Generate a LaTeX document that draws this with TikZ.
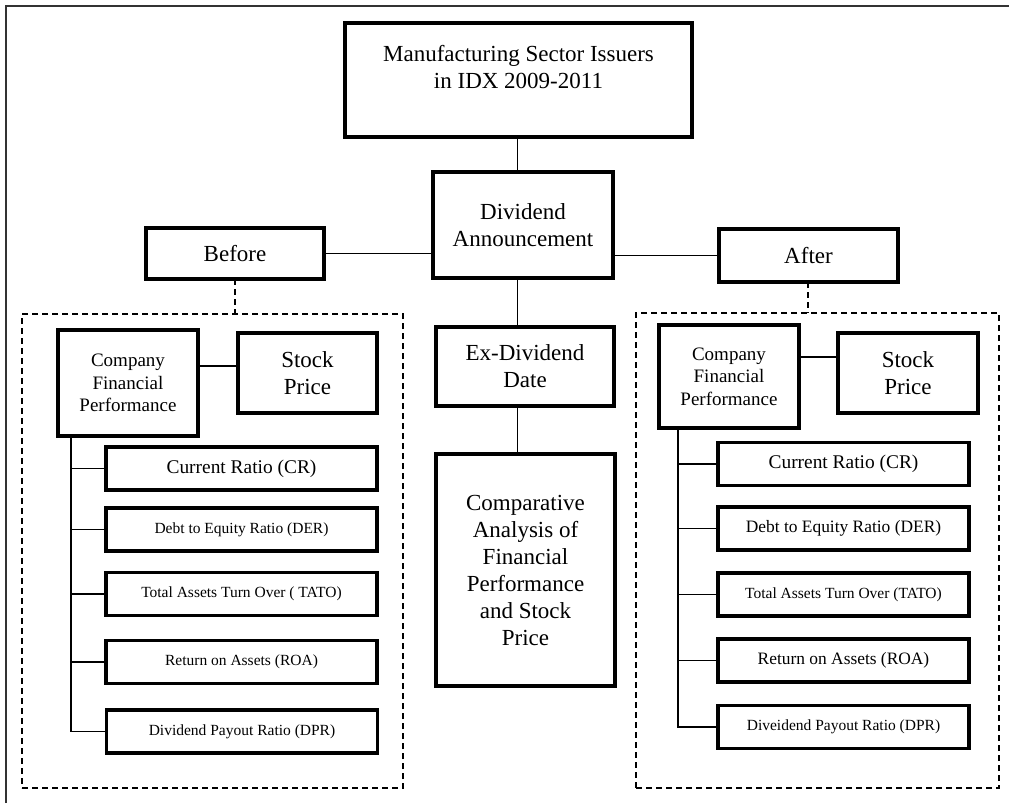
\documentclass[tikz,border=0pt]{standalone}
\usepackage{fontspec}
\setmainfont{Liberation Serif}
\newcommand\myfA{\fontsize{23}{27}\selectfont}
\newcommand\myfC{\fontsize{19}{22.5}\selectfont}
\newcommand\myfD{\fontsize{19.4}{22}\selectfont}
\newcommand\myfE{\fontsize{15.5}{18}\selectfont}
\newcommand\myfF{\fontsize{17.4}{20}\selectfont}
\begin{document}
\begin{tikzpicture}[x=1pt,y=-1pt,
  boxx/.style={draw, rectangle, line width=3.2pt, inner sep=0pt, outer sep=0pt, align=center},
  link/.style={line width=1.3pt},
  dlink/.style={line width=1.2pt, dash pattern=on 6pt off 4pt},
  dbox/.style={draw, rectangle, line width=1.2pt, dash pattern=on 6pt off 4pt, inner sep=0pt, outer sep=0pt},
  outerframe/.style={line width=1.5pt, draw=black!80}]
\useasboundingbox (0,0) rectangle (1009,803);
\draw[outerframe] (6,803) -- (6,6) -- (1009,6);

% centre column
\node[boxx, font=\myfA, minimum width=347pt, minimum height=114pt] (title) at (518.5,80) {Manufacturing Sector Issuers\\in IDX 2009-2011\\\mbox{}};
\node[boxx, font=\myfA, minimum width=180pt, minimum height=106pt] (div) at (523,225) {Dividend\\Announcement};
\node[boxx, font=\myfA, minimum width=178pt, minimum height=51pt] (before) at (235,253.5) {Before};
\node[boxx, font=\myfA, minimum width=179pt, minimum height=53pt] (after) at (808.5,255.5) {After};
\node[boxx, font=\myfA, minimum width=178pt, minimum height=79pt] (exdiv) at (525,366.5) {Ex-Dividend\\Date};
\node[boxx, font=\myfA, minimum width=179pt, minimum height=232pt] (comp) at (525.5,570) {Comparative\\Analysis of\\Financial\\Performance\\and Stock\\Price};

% panels
\node[dbox, minimum width=381pt, minimum height=474pt] (lpanel) at (212.5,551) {};
\node[dbox, minimum width=363pt, minimum height=475pt] (rpanel) at (817.5,550.5) {};

% left panel
\node[boxx, font=\myfC, minimum width=140pt, minimum height=106pt] (lcfp) at (128,383) {Company\\Financial\\Performance};
\node[boxx, font=\myfA, minimum width=139pt, minimum height=80pt] (lsp) at (307.5,373) {Stock\\Price};
\node[boxx, font=\myfD, minimum width=271pt, minimum height=43pt] (lcr) at (241.5,468.5) {Current Ratio (CR)};
\node[boxx, font=\myfE, minimum width=271pt, minimum height=43pt] (lder) at (241.5,529.5) {Debt to Equity Ratio (DER)};
\node[boxx, font=\myfE, minimum width=271pt, minimum height=43pt] (ltato) at (241.5,594) {Total Assets Turn Over ( TATO)};
\node[boxx, font=\myfE, minimum width=271pt, minimum height=43pt] (lroa) at (241.5,662) {Return on Assets (ROA)};
\node[boxx, font=\myfE, minimum width=271pt, minimum height=43pt] (ldpr) at (242,731.5) {Dividend Payout Ratio (DPR)};

% right panel
\node[boxx, font=\myfC, minimum width=140pt, minimum height=103pt] (rcfp) at (729,376.5) {Company\\Financial\\Performance};
\node[boxx, font=\myfA, minimum width=140pt, minimum height=80pt] (rsp) at (908,373) {Stock\\Price};
\node[boxx, font=\myfD, minimum width=251pt, minimum height=43pt] (rcr) at (843.5,464) {Current Ratio (CR)};
\node[boxx, font=\myfF, minimum width=251pt, minimum height=43pt] (rder) at (843.5,528.5) {Debt to Equity Ratio (DER)};
\node[boxx, font=\myfE, minimum width=251pt, minimum height=43pt] (rtato) at (843.5,594.5) {Total Assets Turn Over (TATO)};
\node[boxx, font=\myfF, minimum width=251pt, minimum height=43pt] (rroa) at (843.5,660.5) {Return on Assets (ROA)};
\node[boxx, font=\myfE, minimum width=251pt, minimum height=43pt] (rdpr) at (843.5,727) {Diveidend Payout Ratio (DPR)};

% connectors: centre
\coordinate (cx) at (517.5,0);
\draw[link] (title.south -| cx) -- (div.north -| cx);
\draw[link] (div.south -| cx) -- (exdiv.north -| cx);
\draw[link] (exdiv.south -| cx) -- (comp.north -| cx);
\draw[link] (before.east) -- (before.east -| div.west);
\draw[link] (after.west) -- (after.west -| div.east);
\draw[dlink] (before.south) -- (before.south |- lpanel.north);
\coordinate (rx) at (808,0);
\draw[dlink] (after.south -| rx) -- (rpanel.north -| rx);

% connectors: left panel
\path (lcfp.north east) ++(0,36) coordinate (lj);
\draw[link] (lj) -- (lj -| lsp.west);
\coordinate (lt) at (71,0);
\draw[link] (lcfp.south -| lt) -- (ldpr.west -| lt) -- (ldpr.west);
\foreach \n in {lcr,lder,ltato,lroa} \draw[link] (\n.west -| lt) -- (\n.west);

% connectors: right panel
\path (rcfp.north east) ++(0,32) coordinate (rj);
\draw[link] (rj) -- (rj -| rsp.west);
\coordinate (rt) at (678,0);
\draw[link] (rcfp.south -| rt) -- (rdpr.west -| rt) -- (rdpr.west);
\foreach \n in {rcr,rder,rtato,rroa} \draw[link] (\n.west -| rt) -- (\n.west);
\end{tikzpicture}
\end{document}
